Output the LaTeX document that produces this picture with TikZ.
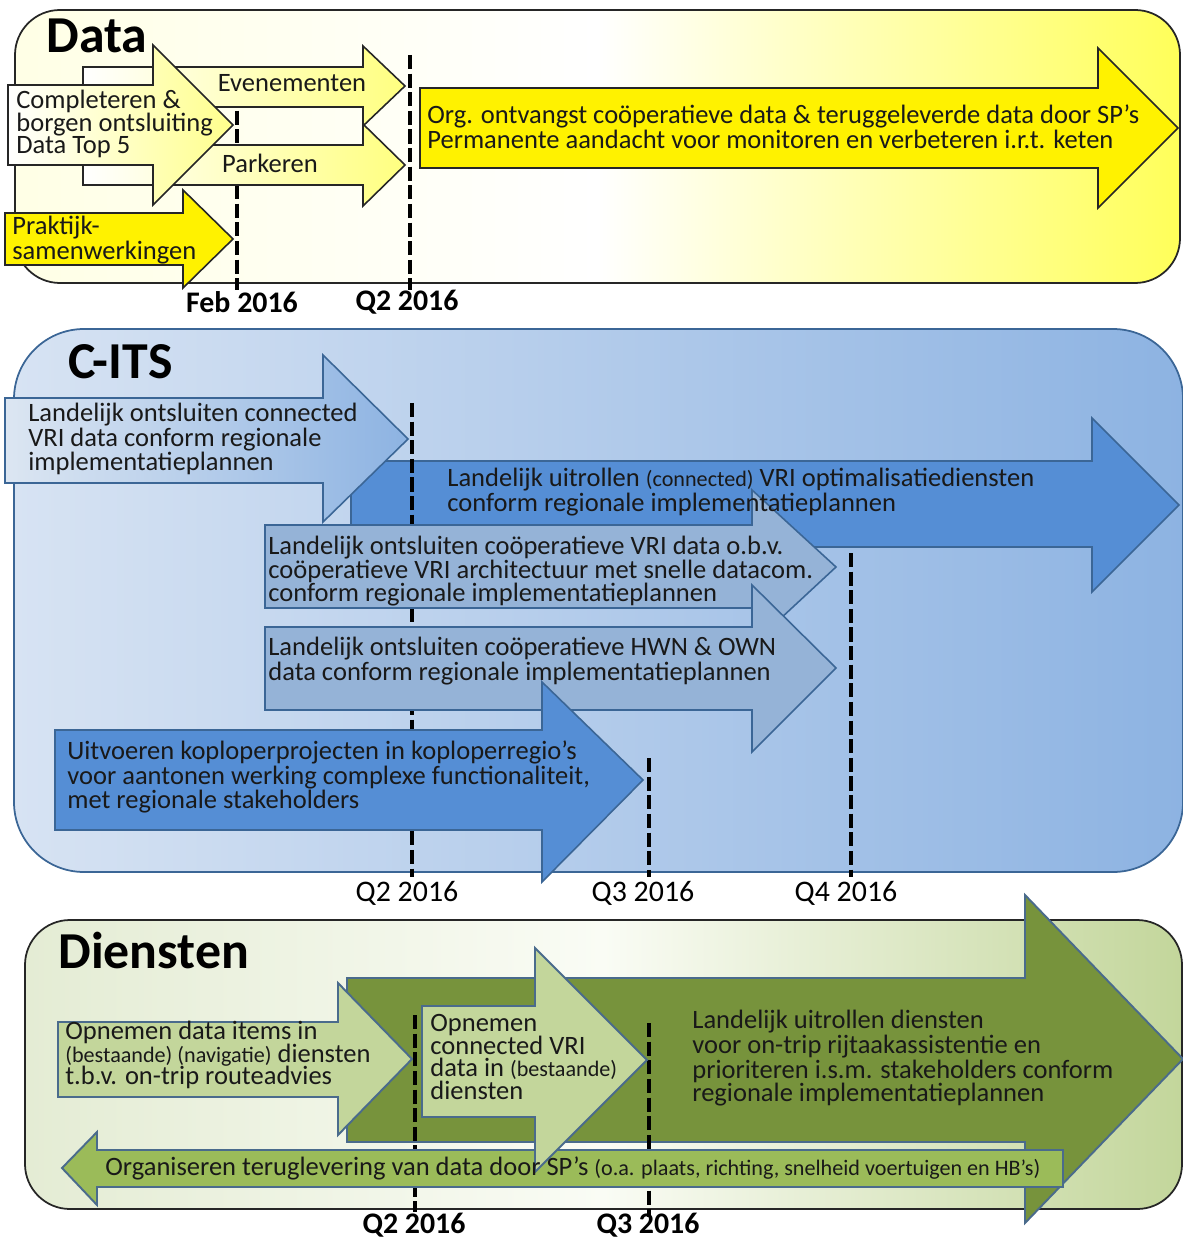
\documentclass[tikz,border=0pt]{standalone}
\usepackage{fontspec}
\setmainfont{Carlito}
\usepackage{tikz}

\definecolor{itsPanelL}{HTML}{D7E3F3}
\definecolor{itsPanelR}{HTML}{8DB3E2}
\definecolor{itsBorder}{HTML}{3B6696}
\definecolor{itsLight}{HTML}{DCE6F2}
\definecolor{itsMid}{HTML}{95B3D7}
\definecolor{itsDark}{HTML}{558ED5}
\definecolor{dienstL}{HTML}{E4ECD4}
\definecolor{dienstM}{HTML}{FAFCF5}
\definecolor{dienstR}{HTML}{C3D69B}
\definecolor{greenDark}{HTML}{77933C}
\definecolor{greenLight}{HTML}{C3D69B}
\definecolor{greenMid}{HTML}{9BBB59}
\definecolor{greenBorder}{HTML}{4A6B8C}

\newcommand\klein[1]{{\fontsize{12.6}{13}\selectfont #1}}

\begin{document}
\begin{tikzpicture}[x=0.02cm, y=-0.02cm,
  panel/.style={line width=1pt},
  txt/.style={font=\fontsize{15.1}{13}\selectfont, align=left, inner sep=0pt, anchor=west, text=black!90},
  title/.style={font=\fontsize{29.5}{30}\selectfont\bfseries, inner sep=0pt, anchor=west},
  datum/.style={line width=2.8pt, dash pattern=on 8pt off 2.6pt},
  datelabel/.style={font=\fontsize{17}{18}\selectfont, inner sep=0pt},
  boldlabel/.style={font=\fontsize{17}{18}\selectfont\bfseries, inner sep=0pt},
  yellowarrow/.style={draw=black!85, line width=0.9pt},
  bluearrow/.style={draw=itsBorder, line width=0.9pt},
  greenarrow/.style={draw=greenBorder, line width=1.1pt}]
\useasboundingbox (0,0) rectangle (1182,1239);

% Data
\draw[panel, draw=black!85, left color=yellow!10, right color=yellow!65, middle color=white, rounded corners=0.9cm] (15,10) rectangle (1180,283);
\draw[datum] (237,92) -- (237,290);
\draw[yellowarrow, left color=white, right color=yellow!50] (83,67) -- (363,67) -- (363,46) -- (405,86) -- (363,126) -- (363,107) -- (83,107) -- cycle;
\draw[yellowarrow, left color=white, right color=yellow!50] (83,145) -- (363,145) -- (363,124) -- (405,165) -- (363,206) -- (363,185) -- (83,185) -- cycle;
\draw[yellowarrow, left color=white, right color=yellow!45] (8,85) -- (153,85) -- (153,45) -- (233,125) -- (153,205) -- (153,165) -- (8,165) -- cycle;
\draw[yellowarrow, fill=yellow] (5,213) -- (183,213) -- (183,190) -- (233,239) -- (183,288) -- (183,265) -- (5,265) -- cycle;
\draw[yellowarrow, fill=yellow] (420,88) -- (1098,88) -- (1098,48) -- (1178,128) -- (1098,208) -- (1098,168) -- (420,168) -- cycle;
\draw[datum] (410,55) -- (410,290);

\node[title] (dataTitle) at (46,36) {Data};
\node[txt] (topFive) at (16,124) {Completeren \&\\borgen ontsluiting\\Data Top 5};
\node[txt, anchor=center] (events) at (292,83) {Evenementen};
\node[txt, anchor=center] (parking) at (270,163) {Parkeren};
\node[txt] (practice) at (12,240) {Praktijk-\\samenwerkingen};
\node[txt] (coopData) at (427,127) {Org. ontvangst coöperatieve data \& teruggeleverde data door SP’s\\Permanente aandacht voor monitoren en verbeteren i.r.t. keten};
\node[boldlabel] (febLabel) at (242,302) {Feb 2016};
\node[boldlabel] (dataQtwo) at (407,302) {Q2 2016};

% C-ITS
\draw[panel, draw=itsBorder, left color=itsPanelL, right color=itsPanelR, rounded corners=1.4cm] (14,329) rectangle (1183,872);
\draw[bluearrow, fill=itsDark] (351,461) -- (1092,461) -- (1092,418) -- (1179,505) -- (1092,592) -- (1092,547) -- (351,547) -- cycle;
\draw[bluearrow, left color=itsLight, right color=itsPanelR] (5,398) -- (323,398) -- (323,355) -- (408,439) -- (323,522) -- (323,483) -- (5,483) -- cycle;
\draw[datum] (412,403) -- (412,877);
\draw[bluearrow, fill=itsMid] (265,525) -- (752,525) -- (752,490) -- (836,567) -- (752,645) -- (752,608) -- (265,608) -- cycle;
\draw[bluearrow, fill=itsMid] (265,627) -- (752,627) -- (752,585) -- (836,668) -- (752,752) -- (752,710) -- (265,710) -- cycle;
\draw[bluearrow, fill=itsDark] (55,730) -- (542,730) -- (542,682) -- (643,780) -- (542,882) -- (542,830) -- (55,830) -- cycle;
\draw[datum] (649,758) -- (649,877);
\draw[datum] (851,553) -- (851,877);

\node[title] (itsTitle) at (68,362) {C-ITS};
\node[txt] (connText) at (28,439) {Landelijk ontsluiten connected\\VRI data conform regionale\\implementatieplannen};
\node[txt] (optText) at (447,492) {Landelijk uitrollen \klein{(connected)} VRI optimalisatiediensten\\conform regionale implementatieplannen};
\node[txt] (coopText) at (268,571) {Landelijk ontsluiten coöperatieve VRI data o.b.v.\\coöperatieve VRI architectuur met snelle datacom.\\conform regionale implementatieplannen};
\node[txt] (hwnText) at (268,661) {Landelijk ontsluiten coöperatieve HWN \& OWN\\data conform regionale implementatieplannen};
\node[txt] (pilotText) at (67,777) {Uitvoeren koploperprojecten in koploperregio’s\\voor aantonen werking complexe functionaliteit,\\met regionale stakeholders};
\node[datelabel] (itsQtwo) at (407,893) {Q2 2016};
\node[datelabel] (itsQthree) at (643,893) {Q3 2016};
\node[datelabel] (itsQfour) at (846,893) {Q4 2016};

% Diensten
\draw[panel, draw=black!85, left color=dienstL, right color=dienstR, middle color=dienstM, rounded corners=0.9cm] (25,920) rectangle (1182,1209);
\draw[greenarrow, fill=greenDark] (347,978) -- (1025,978) -- (1025,895) -- (1183,1059) -- (1025,1223) -- (1025,1142) -- (347,1142) -- cycle;
\draw[greenarrow, fill=greenLight] (58,1022) -- (338,1022) -- (338,983) -- (412,1059) -- (338,1135) -- (338,1097) -- (58,1097) -- cycle;
\draw[datum] (415,1015) -- (415,1212);
\draw[datum] (649,1023) -- (649,1217);
\draw[greenarrow, fill=greenMid] (62,1168) -- (97,1132) -- (97,1150) -- (1063,1150) -- (1063,1187) -- (97,1187) -- (97,1205) -- cycle;
\draw[greenarrow, fill=greenLight] (422,1006) -- (535,1006) -- (535,948) -- (647,1060) -- (535,1172) -- (535,1117) -- (422,1117) -- cycle;

\node[title] (dienstTitle) at (58,950) {Diensten};
\node[txt] (itemsText) at (65,1055) {Opnemen data items in\\\klein{(bestaande) (navigatie)} diensten\\t.b.v. on-trip routeadvies};
\node[txt] (vriText) at (430,1057) {Opnemen\\connected VRI\\data in \klein{(bestaande)}\\diensten};
\node[txt] (rolloutText) at (692,1058) {Landelijk uitrollen diensten\\voor on-trip rijtaakassistentie en\\prioriteren i.s.m. stakeholders conform\\regionale implementatieplannen};
\node[txt] (returnText) at (105,1168) {Organiseren teruglevering van data door SP’s \klein{(o.a. plaats, richting, snelheid voertuigen en HB’s)}};
\node[boldlabel] (dienstQtwo) at (414,1225) {Q2 2016};
\node[boldlabel] (dienstQthree) at (648,1225) {Q3 2016};
\end{tikzpicture}
\end{document}
